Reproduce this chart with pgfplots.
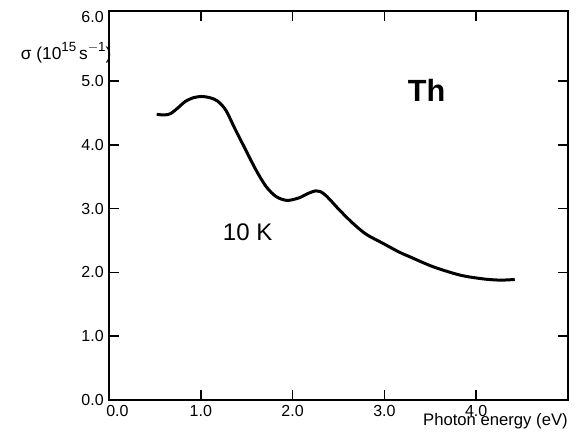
\documentclass[border=0pt]{standalone}
\usepackage{fontspec}
\setmainfont{Liberation Sans}
\usepackage{pgfplots}
\pgfplotsset{compat=1.18}
\newcommand{\sx}[1]{\raisebox{0.45em}{\fontsize{10}{12}\selectfont #1}}
\begin{document}
\begin{tikzpicture}
\useasboundingbox (-81.75pt,-27pt) rectangle (350.25pt,300pt);
\begin{axis}[
  anchor=origin, at={(0pt,0pt)},
  scale only axis,
  width=344.25pt, height=291.75pt,
  xmin=0, xmax=5.0, ymin=0, ymax=6.1,
  axis line style={line width=1.1pt},
  every tick/.style={black, line width=1.1pt},
  tick align=inside,
  major tick length=7.5pt,
  xtick={0,1,2,3,4},
  xticklabels={\makebox[0pt][l]{\kern-2pt 0.0},1.0,2.0,3.0,4.0},
  ytick={0,1,2,3,4,5},
  extra y ticks={6},
  extra y tick labels={6.0},
  extra y tick style={major tick length=0pt},
  /pgf/number format/assume math mode=true,
  ticklabel style={font=\fontsize{12}{14}\selectfont, inner sep=1pt},
  yticklabel style={/pgf/number format/fixed, /pgf/number format/fixed zerofill, /pgf/number format/precision=1, xshift=-2.75pt},
  xticklabel style={yshift=-2.5pt},
  clip=false,
]
\addplot[black, line width=2.25pt, smooth, tension=0.5] coordinates {
(0.52,4.48) (0.60,4.47) (0.67,4.49) (0.75,4.58) (0.83,4.68) (0.92,4.74)
(1.01,4.76) (1.10,4.74) (1.18,4.69) (1.27,4.55) (1.38,4.23) (1.49,3.92)
(1.60,3.61) (1.71,3.35) (1.82,3.19) (1.94,3.13) (2.07,3.17) (2.17,3.24)
(2.25,3.28) (2.30,3.27) (2.36,3.21) (2.44,3.09) (2.51,2.98) (2.65,2.78)
(2.80,2.60) (2.98,2.46) (3.16,2.32) (3.27,2.25) (3.53,2.09) (3.82,1.96)
(4.07,1.90) (4.26,1.88) (4.42,1.89)
};
\node[anchor=east, font=\fontsize{13}{15}\selectfont, inner sep=0pt] at (axis cs:0,5.45) {σ (10\sx{15}\,s\sx{$-$1})\kern-2pt};
\node[anchor=base east, font=\fontsize{12.5}{14}\selectfont, inner sep=0pt] at ([yshift=-19.5pt]rel axis cs:1,0) {Photon energy (eV)};
\node[font=\fontsize{23}{26}\selectfont\bfseries] at (axis cs:3.46,4.86) {Th};
\node[font=\fontsize{18}{20}\selectfont] at (axis cs:1.51,2.63) {10 K};
\end{axis}
\end{tikzpicture}
\end{document}
